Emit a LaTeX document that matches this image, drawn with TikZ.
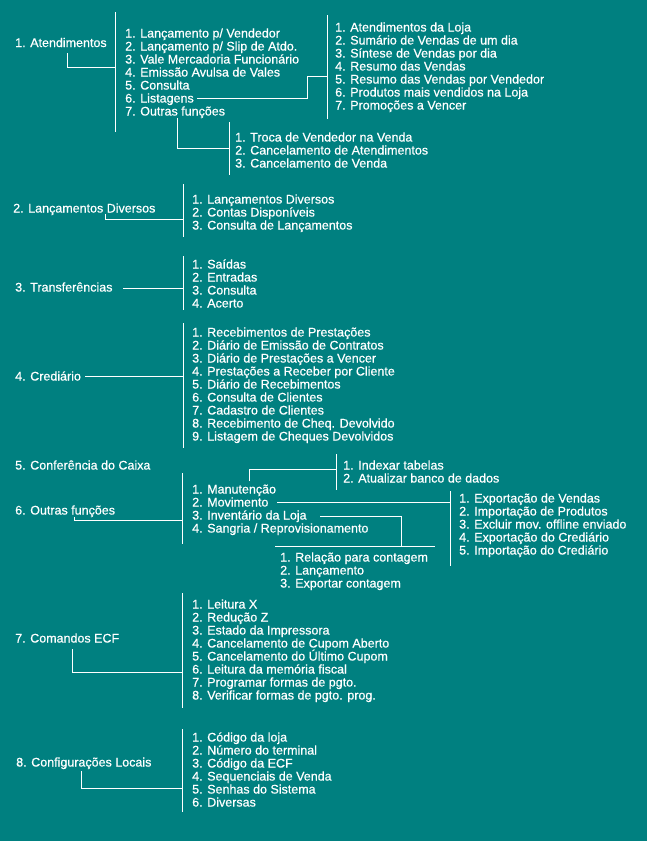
\documentclass[tikz,border=0pt]{standalone}
\usepackage{fontspec}
\setmainfont{Liberation Sans}
\newfontfamily\menufont{Liberation Sans}[FakeBold=0.6]
\definecolor{fundo}{RGB}{0,128,128}
\begin{document}
\begin{tikzpicture}[x=1pt,y=-1pt,
    linha/.style={draw=white,line width=1pt},
    texto/.style={text=white,anchor=base west,inner sep=0pt,font=\menufont\fontsize{12.5}{13}\selectfont}]
            % Fondo
            \fill[fundo] (0,0) rectangle (647,841); % Rectangulo de fondo (fija el tamano)

            % 1. Atendimentos
            \node[texto] (m1) at (15,47) {1. Atendimentos}; % Menu principal
            \node[texto] (a1) at (125,37.5) {1. Lançamento p/ Vendedor};
            \node[texto] (a2) at (125,50.5) {2. Lançamento p/ Slip de Atdo.};
            \node[texto] (a3) at (125,63.5) {3. Vale Mercadoria Funcionário};
            \node[texto] (a4) at (125,76.5) {4. Emissão Avulsa de Vales};
            \node[texto] (a5) at (125,89.5) {5. Consulta};
            \node[texto] (a6) at (125,102.5) {6. Listagens};
            \node[texto] (a7) at (125,115.5) {7. Outras funções};
            \coordinate (b1t) at (115,12); \coordinate (b1b) at (115,132); % Barra del submenu
            \coordinate (c1) at (67,53); \coordinate (c1e) at (115,67); % Conector
            \draw[linha] (b1t) -- (b1b); % Barra vertical
            \draw[linha] (c1) |- (c1e); % Atendimentos -> barra

            % Listagens
            \node[texto] (l1) at (335,31.5) {1. Atendimentos da Loja};
            \node[texto] (l2) at (335,44.5) {2. Sumário de Vendas de um dia};
            \node[texto] (l3) at (335,57.5) {3. Síntese de Vendas por dia};
            \node[texto] (l4) at (335,70.5) {4. Resumo das Vendas};
            \node[texto] (l5) at (335,83.5) {5. Resumo das Vendas por Vendedor};
            \node[texto] (l6) at (335,96.5) {6. Produtos mais vendidos na Loja};
            \node[texto] (l7) at (335,109.5) {7. Promoções a Vencer};
            \coordinate (bLt) at (327,15); \coordinate (bLb) at (327,119);
            \coordinate (cL) at (197,98); \coordinate (cLm) at (307,76); \coordinate (cLe) at (327,76);
            \draw[linha] (bLt) -- (bLb); % Barra vertical
            \draw[linha] (cL) -| (cLm) -- (cLe); % Listagens -> barra

            % Outras funciones (Atendimentos)
            \node[texto] (o1) at (235,141.5) {1. Troca de Vendedor na Venda};
            \node[texto] (o2) at (235,154.5) {2. Cancelamento de Atendimentos};
            \node[texto] (o3) at (235,167.5) {3. Cancelamento de Venda};
            \coordinate (bOt) at (229,122); \coordinate (bOb) at (229,175);
            \coordinate (cO) at (177,118); \coordinate (cOe) at (229,148);
            \draw[linha] (bOt) -- (bOb); % Barra vertical
            \draw[linha] (cO) |- (cOe); % Outras funcoes -> barra

            % 2. Lancamentos Diversos
            \node[texto] (m2) at (13,212.5) {2. Lançamentos Diversos};
            \node[texto] (d1) at (192,203.5) {1. Lançamentos Diversos};
            \node[texto] (d2) at (192,216.5) {2. Contas Disponíveis};
            \node[texto] (d3) at (192,229.5) {3. Consulta de Lançamentos};
            \coordinate (b2t) at (183,184); \coordinate (b2b) at (183,237);
            \coordinate (c2) at (105,214); \coordinate (c2e) at (183,219);
            \draw[linha] (b2t) -- (b2b);
            \draw[linha] (c2) |- (c2e);

            % 3. Transferencias
            \node[texto] (m3) at (15,291.5) {3. Transferências};
            \node[texto] (t1) at (192,268.5) {1. Saídas};
            \node[texto] (t2) at (192,281.5) {2. Entradas};
            \node[texto] (t3) at (192,294.5) {3. Consulta};
            \node[texto] (t4) at (192,307.5) {4. Acerto};
            \coordinate (b3t) at (183,256); \coordinate (b3b) at (183,310);
            \coordinate (c3) at (123,288); \coordinate (c3e) at (183,288);
            \draw[linha] (b3t) -- (b3b);
            \draw[linha] (c3) -- (c3e);

            % 4. Crediario
            \node[texto] (m4) at (15,380.5) {4. Crediário};
            \node[texto] (r1) at (192,336.5) {1. Recebimentos de Prestações};
            \node[texto] (r2) at (192,349.5) {2. Diário de Emissão de Contratos};
            \node[texto] (r3) at (192,362.5) {3. Diário de Prestações a Vencer};
            \node[texto] (r4) at (192,375.5) {4. Prestações a Receber por Cliente};
            \node[texto] (r5) at (192,388.5) {5. Diário de Recebimentos};
            \node[texto] (r6) at (192,401.5) {6. Consulta de Clientes};
            \node[texto] (r7) at (192,414.5) {7. Cadastro de Clientes};
            \node[texto] (r8) at (192,427.5) {8. Recebimento de Cheq. Devolvido};
            \node[texto] (r9) at (192,440.5) {9. Listagem de Cheques Devolvidos};
            \coordinate (b4t) at (183,323); \coordinate (b4b) at (183,448);
            \coordinate (c4) at (85,376); \coordinate (c4e) at (183,376);
            \draw[linha] (b4t) -- (b4b);
            \draw[linha] (c4) -- (c4e);

            % 5. Conferencia do Caixa
            \node[texto] (m5) at (15,469.5) {5. Conferência do Caixa};

            % 6. Outras funcoes
            \node[texto] (m6) at (15,514.5) {6. Outras funções};
            \node[texto] (f1) at (192,493.5) {1. Manutenção};
            \node[texto] (f2) at (192,506.5) {2. Movimento};
            \node[texto] (f3) at (192,519.5) {3. Inventário da Loja};
            \node[texto] (f4) at (192,532.5) {4. Sangria / Reprovisionamento};
            \coordinate (b6t) at (182,473); \coordinate (b6b) at (182,544);
            \coordinate (c6) at (74,517); \coordinate (c6e) at (182,520);
            \draw[linha] (b6t) -- (b6b);
            \draw[linha] (c6) |- (c6e);

            % Manutencao
            \node[texto] (n1) at (343,469.5) {1. Indexar tabelas};
            \node[texto] (n2) at (343,482.5) {2. Atualizar banco de dados};
            \coordinate (bNt) at (336,454); \coordinate (bNb) at (336,490);
            \coordinate (cN) at (249,481); \coordinate (cNe) at (336,469);
            \draw[linha] (bNt) -- (bNb);
            \draw[linha] (cN) |- (cNe);

            % Movimento
            \node[texto] (v1) at (459,502.5) {1. Exportação de Vendas};
            \node[texto] (v2) at (459,515.5) {2. Importação de Produtos};
            \node[texto] (v3) at (459,528.5) {3. Excluir mov. offline enviado};
            \node[texto] (v4) at (459,541.5) {4. Exportação do Crediário};
            \node[texto] (v5) at (459,554.5) {5. Importação do Crediário};
            \coordinate (bVt) at (450,491); \coordinate (bVb) at (450,566);
            \coordinate (cV) at (277,502); \coordinate (cVe) at (450,502);
            \draw[linha] (bVt) -- (bVb);
            \draw[linha] (cV) -- (cVe);

            % Inventario da Loja
            \node[texto] (i1) at (280,561.5) {1. Relação para contagem};
            \node[texto] (i2) at (280,574.5) {2. Lançamento};
            \node[texto] (i3) at (280,587.5) {3. Exportar contagem};
            \coordinate (bIl) at (275,546); \coordinate (bIr) at (435,546); % Barra horizontal
            \coordinate (cI) at (320,516); \coordinate (cIe) at (401,546);
            \draw[linha] (bIl) -- (bIr);
            \draw[linha] (cI) -| (cIe);

            % 7. Comandos ECF
            \node[texto] (m7) at (15,642.5) {7. Comandos ECF};
            \node[texto] (e1) at (192,608.5) {1. Leitura X};
            \node[texto] (e2) at (192,621.5) {2. Redução Z};
            \node[texto] (e3) at (192,634.5) {3. Estado da Impressora};
            \node[texto] (e4) at (192,647.5) {4. Cancelamento de Cupom Aberto};
            \node[texto] (e5) at (192,660.5) {5. Cancelamento do Último Cupom};
            \node[texto] (e6) at (192,673.5) {6. Leitura da memória fiscal};
            \node[texto] (e7) at (192,686.5) {7. Programar formas de pgto.};
            \node[texto] (e8) at (192,699.5) {8. Verificar formas de pgto. prog.};
            \coordinate (b7t) at (182,593); \coordinate (b7b) at (182,708);
            \coordinate (c7) at (72,649); \coordinate (c7e) at (182,672);
            \draw[linha] (b7t) -- (b7b);
            \draw[linha] (c7) |- (c7e);

            % 8. Configuracoes Locais
            \node[texto] (m8) at (16,766.5) {8. Configurações Locais};
            \node[texto] (g1) at (192,741.5) {1. Código da loja};
            \node[texto] (g2) at (192,754.5) {2. Número do terminal};
            \node[texto] (g3) at (192,767.5) {3. Código da ECF};
            \node[texto] (g4) at (192,780.5) {4. Sequenciais de Venda};
            \node[texto] (g5) at (192,793.5) {5. Senhas do Sistema};
            \node[texto] (g6) at (192,806.5) {6. Diversas};
            \coordinate (b8t) at (182,729); \coordinate (b8b) at (182,812);
            \coordinate (c8) at (81,771); \coordinate (c8e) at (182,788);
            \draw[linha] (b8t) -- (b8b);
            \draw[linha] (c8) |- (c8e);
        \end{tikzpicture}
\end{document}
